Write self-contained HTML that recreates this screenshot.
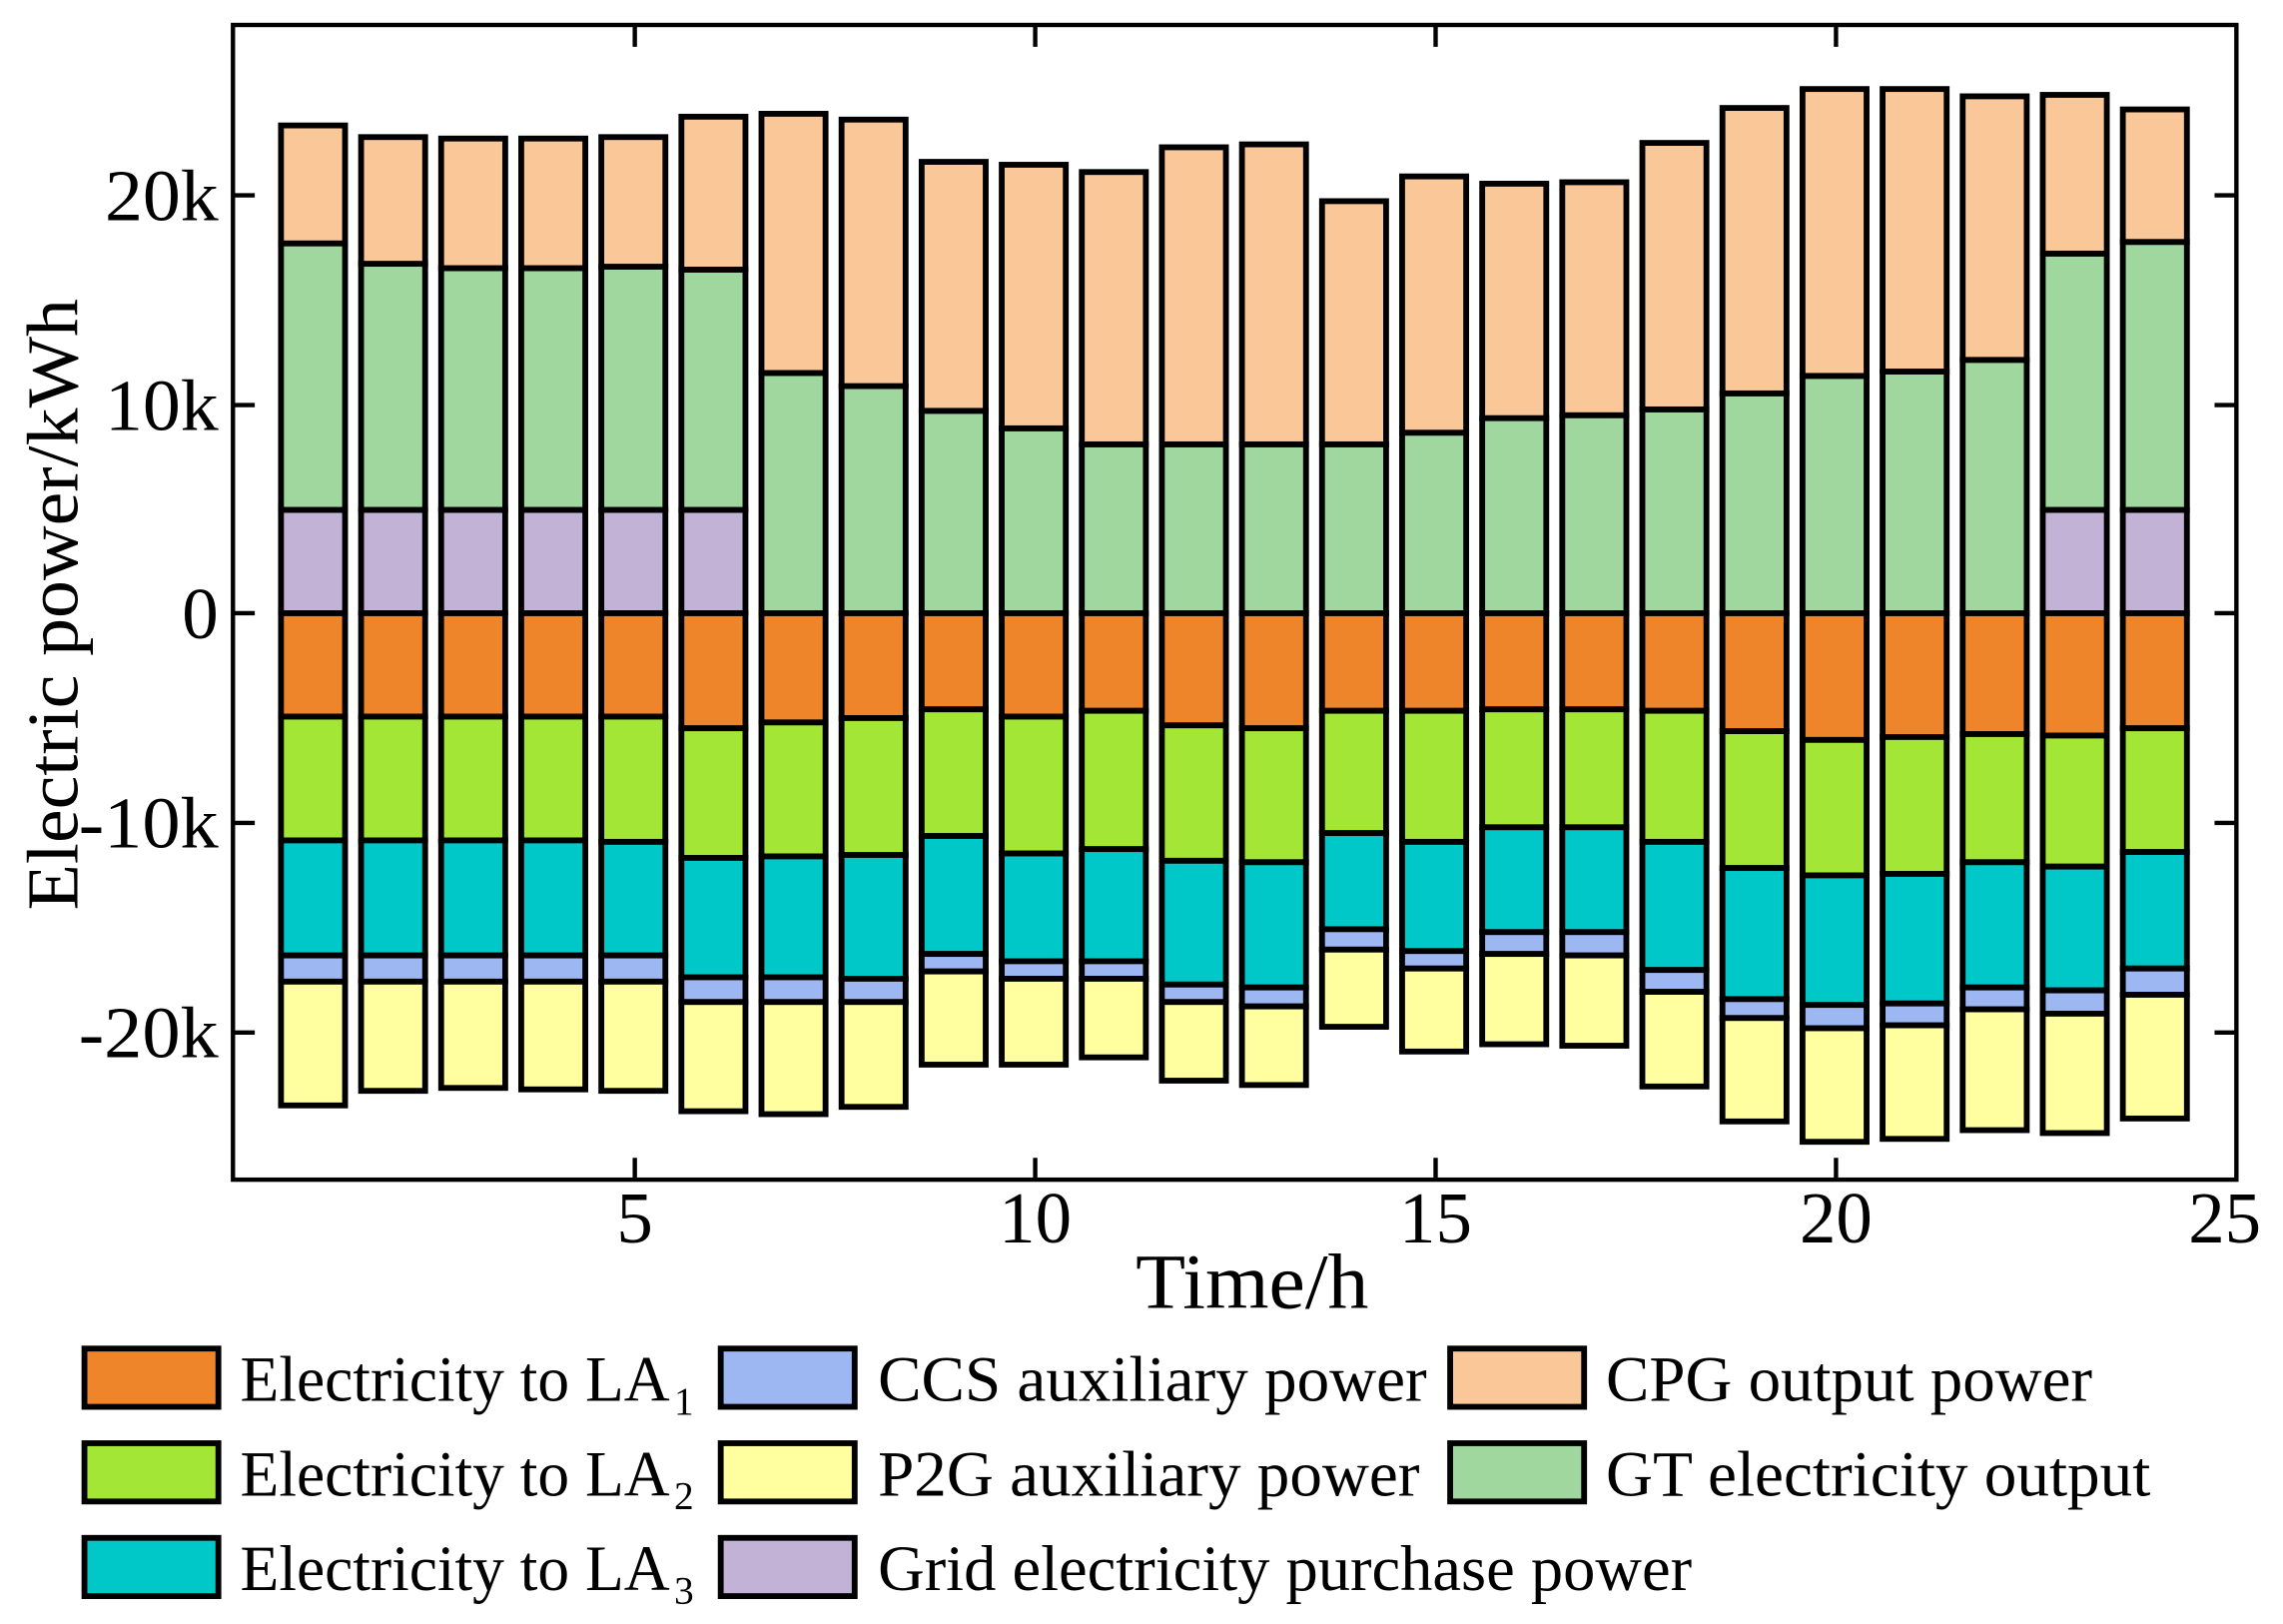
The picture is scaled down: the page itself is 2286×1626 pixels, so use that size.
<!DOCTYPE html>
<html><head><meta charset="utf-8"><style>
html,body{margin:0;padding:0;background:#fff;}
svg{display:block;}
text{font-family:"Liberation Serif","Times New Roman",serif;fill:#000;}
</style></head><body>
<svg id="s" width="2286" height="1626" viewBox="0 0 1568 1115" xmlns="http://www.w3.org/2000/svg">
<g id="bars"></g>
<rect x="160" y="17" width="1376" height="793" fill="none" stroke="#000" stroke-width="3"/>
<g stroke="#000" stroke-width="3">
<line x1="436" y1="810" x2="436" y2="795"/><line x1="711" y1="810" x2="711" y2="795"/><line x1="986" y1="810" x2="986" y2="795"/><line x1="1261" y1="810" x2="1261" y2="795"/>
<line x1="436" y1="17" x2="436" y2="32"/><line x1="711" y1="17" x2="711" y2="32"/><line x1="986" y1="17" x2="986" y2="32"/><line x1="1261" y1="17" x2="1261" y2="32"/>
<line x1="160" y1="134" x2="175" y2="134"/><line x1="160" y1="278" x2="175" y2="278"/><line x1="160" y1="421" x2="175" y2="421"/><line x1="160" y1="565" x2="175" y2="565"/><line x1="160" y1="709" x2="175" y2="709"/>
<line x1="1536" y1="134" x2="1521" y2="134"/><line x1="1536" y1="278" x2="1521" y2="278"/><line x1="1536" y1="421" x2="1521" y2="421"/><line x1="1536" y1="565" x2="1521" y2="565"/><line x1="1536" y1="709" x2="1521" y2="709"/>
</g>
<g font-size="50" text-anchor="end">
<text x="150" y="151" textLength="78" lengthAdjust="spacingAndGlyphs">20k</text>
<text x="150" y="295" textLength="78" lengthAdjust="spacingAndGlyphs">10k</text>
<text x="150" y="438">0</text>
<text x="150" y="582" textLength="96" lengthAdjust="spacingAndGlyphs">-10k</text>
<text x="150" y="726" textLength="96" lengthAdjust="spacingAndGlyphs">-20k</text>
</g>
<g font-size="50" text-anchor="middle">
<text x="436" y="853">5</text><text x="711" y="853">10</text><text x="986" y="853">15</text><text x="1261" y="853">20</text><text x="1528" y="853">25</text>
</g>
<text x="780" y="898" font-size="54" textLength="160" lengthAdjust="spacingAndGlyphs">Time/h</text>
<text transform="translate(53,415) rotate(-90)" font-size="50" text-anchor="middle" textLength="420" lengthAdjust="spacingAndGlyphs">Electric power/kWh</text>
<g stroke="#000" stroke-width="4">
<rect x="58" y="926" width="92" height="40" fill="#EF852B"/>
<rect x="58" y="991" width="92" height="40" fill="#A3E635"/>
<rect x="58" y="1056" width="92" height="40" fill="#00C8C8"/>
<rect x="495" y="926" width="92" height="40" fill="#9DB7F2"/>
<rect x="495" y="991" width="92" height="40" fill="#FFFFA0"/>
<rect x="495" y="1056" width="92" height="40" fill="#C2B2D6"/>
<rect x="996" y="926" width="92" height="40" fill="#FAC898"/>
<rect x="996" y="991" width="92" height="40" fill="#9FD79F"/>
</g>
<g font-size="44">
<text x="165" y="962" textLength="295" lengthAdjust="spacingAndGlyphs">Electricity to LA</text><text x="463" y="971" font-size="27">1</text>
<text x="165" y="1027" textLength="295" lengthAdjust="spacingAndGlyphs">Electricity to LA</text><text x="463" y="1036" font-size="27">2</text>
<text x="165" y="1092" textLength="295" lengthAdjust="spacingAndGlyphs">Electricity to LA</text><text x="463" y="1101" font-size="27">3</text>
<text x="603" y="962" textLength="377" lengthAdjust="spacingAndGlyphs">CCS auxiliary power</text>
<text x="603" y="1027" textLength="372" lengthAdjust="spacingAndGlyphs">P2G auxiliary power</text>
<text x="603" y="1092" textLength="559" lengthAdjust="spacingAndGlyphs">Grid electricity purchase power</text>
<text x="1103" y="962" textLength="334" lengthAdjust="spacingAndGlyphs">CPG output power</text>
<text x="1103" y="1027" textLength="374" lengthAdjust="spacingAndGlyphs">GT electricity output</text>
</g>
</svg>
<script>
var Z=421;
var gt=[167,181,184,184,183,185,256,265,282,294,305,305,305,305,297,287,285,281,270,258,255,247,174,166];
var cpg=[86,94,95,95,94,80,78,82,111,113,118,101,99,138,121,126,125,98,74,61,61,66,65,75];
var la1=[492,492,492,492,492,500,496,493,487,492,488,498,500,488,488,487,487,488,502,508,506,504,505,500];
var la2=[577,577,577,577,578,589,588,587,574,586,583,591,592,572,578,568,568,578,596,601,600,592,595,585];
var la3=[656,656,656,656,656,671,671,672,655,660,660,676,678,638,653,640,640,666,686,690,689,678,680,665];
var ccs=[674,674,674,674,674,688,688,688,667,672,672,688,691,652,665,655,656,681,699,706,704,693,696,683];
var p2g=[759,749,747,748,749,763,765,760,731,731,726,742,745,705,722,717,718,746,770,784,782,776,778,768];
var pur=[1,1,1,1,1,1,0,0,0,0,0,0,0,0,0,0,0,0,0,0,0,0,1,1];
var h='';
function r(x,y1,y2,c){var t=Math.min(y1,y2),b=Math.max(y1,y2);h+='<rect x="'+x+'" y="'+t+'" width="44" height="'+(b-t)+'" fill="'+c+'" stroke="#000" stroke-width="4"/>';}
for(var i=0;i<24;i++){
 var x=160+55*(i+1)-22;
 var base=Z;
 if(pur[i]){r(x,Z,350,'#C2B2D6');base=350;}
 r(x,base,gt[i],'#9FD79F');
 r(x,gt[i],cpg[i],'#FAC898');
 r(x,Z,la1[i],'#EF852B');
 r(x,la1[i],la2[i],'#A3E635');
 r(x,la2[i],la3[i],'#00C8C8');
 r(x,la3[i],ccs[i],'#9DB7F2');
 r(x,ccs[i],p2g[i],'#FFFFA0');
}
document.getElementById('bars').innerHTML=h;
</script>
</body></html>
